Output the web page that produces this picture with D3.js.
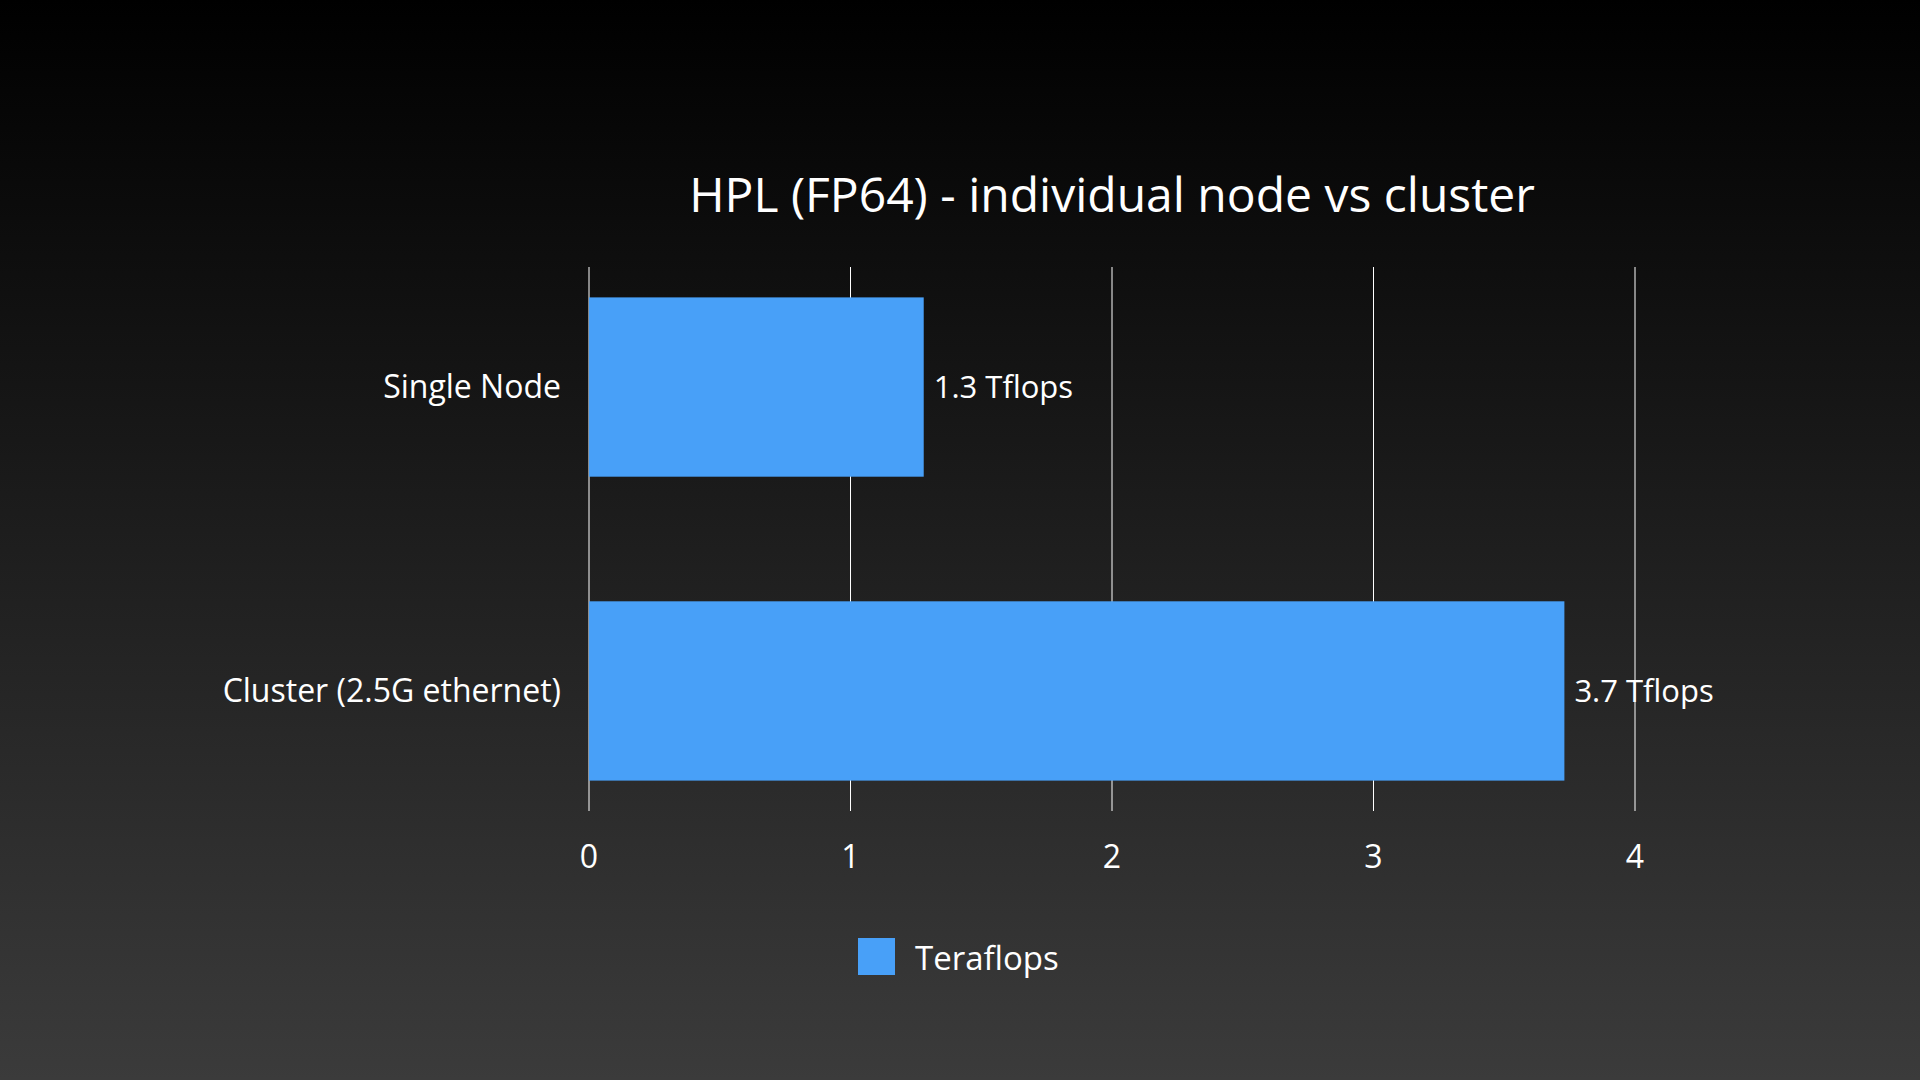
<!DOCTYPE html>
<html><head><meta charset="utf-8">
<script src="https://cdn.jsdelivr.net/npm/d3@7"></script>
<style>html,body{margin:0;padding:0;background:#000;}svg{display:block;}</style>
</head><body>
<svg id="c" width="1920" height="1080"></svg>
<script>
const categories = ["Single Node", "Cluster (2.5G ethernet)"];
const values = [1.28, 3.73];
const valueLabels = ["1.3 Tflops", "3.7 Tflops"];
const ticks = [0, 1, 2, 3, 4];
const seriesName = "Teraflops";
const title = "HPL (FP64) - individual node vs cluster";

const svg = d3.select("#c");
const font = "'Open Sans', 'Noto Sans', sans-serif";
const defs = svg.append("defs");
const g = defs.append("linearGradient").attr("id","bg").attr("x1",0).attr("y1",0).attr("x2",0).attr("y2",1);
g.append("stop").attr("offset","0%").attr("stop-color","#000");
g.append("stop").attr("offset","100%").attr("stop-color","#3b3b3b");
svg.append("rect").attr("width",1920).attr("height",1080).attr("fill","url(#bg)");

const x = d3.scaleLinear().domain([0,4]).range([589,1635]);
const y = d3.scaleBand().domain(categories).range([267,811]).paddingInner(0.41).paddingOuter(0.1);

svg.append("text").attr("x",1112).attr("y",212).attr("text-anchor","middle")
  .attr("fill","#fff").attr("font-family",font).attr("font-size",48).text(title);

svg.selectAll("line.grid").data(ticks).join("line")
  .attr("x1",d=>x(d)).attr("x2",d=>x(d)).attr("y1",267).attr("y2",811)
  .attr("stroke","#fff").attr("stroke-width",1);

svg.selectAll("rect.bar").data(values).join("rect")
  .attr("x",x(0)).attr("y",(d,i)=>y(categories[i]))
  .attr("width",d=>x(d)-x(0)).attr("height",y.bandwidth()).attr("fill","#48a0f8");

svg.selectAll("text.val").data(values).join("text")
  .attr("x",d=>x(d)+10).attr("y",(d,i)=>y(categories[i])+y.bandwidth()/2).attr("dy","0.35em")
  .attr("fill","#fff").attr("font-family",font).attr("font-size",31).text((d,i)=>valueLabels[i]);

svg.selectAll("text.cat").data(categories).join("text")
  .attr("x",561).attr("y",d=>y(d)+y.bandwidth()/2).attr("dy","0.35em").attr("text-anchor","end")
  .attr("fill","#fff").attr("font-family",font).attr("font-size",32).text(d=>d);

svg.selectAll("text.tick").data(ticks).join("text")
  .attr("x",d=>x(d)).attr("y",857).attr("dy","0.35em").attr("text-anchor","middle")
  .attr("fill","#fff").attr("font-family",font).attr("font-size",32).text(d=>d);

svg.append("rect").attr("x",858).attr("y",938).attr("width",37).attr("height",37).attr("fill","#48a0f8");
svg.append("text").attr("x",915).attr("y",958).attr("dy","0.35em")
  .attr("fill","#fff").attr("font-family",font).attr("font-size",33).text(seriesName);
</script>
</body></html>
